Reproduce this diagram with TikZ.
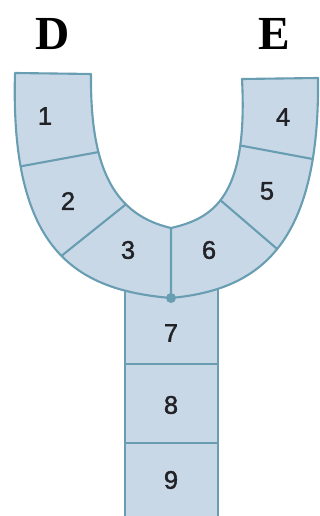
\documentclass[tikz,border=0pt]{standalone}
\usepackage{fontspec}
\newfontfamily\numfont[BoldFont={Liberation Sans},BoldFeatures={FakeBold=1.5}]{Liberation Sans}
\newfontfamily\letfont{Liberation Serif}
\definecolor{ufill}{RGB}{200,216,231}
\definecolor{uline}{RGB}{104,157,178}
\definecolor{numcol}{RGB}{34,34,38}
\begin{document}
\begin{tikzpicture}[x=0.02cm,y=-0.02cm,
  part/.style={fill=ufill},
  edge/.style={draw=uline,line width=1.2pt,line join=round},
  num/.style={font=\numfont\bfseries\fontsize{14.5}{14.5}\selectfont,text=numcol,inner sep=0pt},
  letter/.style={font=\letfont\bfseries\fontsize{27}{27}\selectfont,text=black,inner sep=0pt}]
\useasboundingbox (0,0) rectangle (320,516);
\def\Upath{(15,73) -- (91,74) .. controls (90,170) and (115,215) .. (171,228)
  .. controls (215,218) and (248,195) .. (242,79) -- (318,78)
  .. controls (320,250) and (255,290) .. (171,298)
  .. controls (75,290) and (10,250) .. (15,73) -- cycle}
% stem
\fill[part] (125,270) rectangle (218,516);
\coordinate (sl) at (125,270); \coordinate (sr) at (218,270);
\coordinate (bl) at (125,516); \coordinate (br) at (218,516);
\coordinate (h1l) at (125,364); \coordinate (h1r) at (218,364);
\coordinate (h2l) at (125,443); \coordinate (h2r) at (218,443);
\draw[edge] (sl) -- (bl) (sr) -- (br) (h1l) -- (h1r) (h2l) -- (h2r);
% U
\fill[part] \Upath;
\begin{scope}
  \clip \Upath;
  \draw[edge] (9,168.5) -- (101,151.6)
              (57,259.4) -- (133,198.6)
              (171,220) -- (171,305)
              (212,193) -- (283,254)
              (235,144.5) -- (326,161.5);
\end{scope}
\draw[edge] \Upath;
\coordinate (j) at (171,298);
\fill[uline] (j) circle (5);
% labels
\node[num] (n1) at (45,116) {1};
\node[num] (n2) at (68,201) {2};
\node[num] (n3) at (128,250) {3};
\node[num] (n6) at (209,250) {6};
\node[num] (n5) at (267,191) {5};
\node[num] (n4) at (283,117) {4};
\node[num] (n7) at (171,333) {7};
\node[num] (n8) at (171,405) {8};
\node[num] (n9) at (171,480) {9};
\node[letter] (D) at (53,34) {D};
\node[letter] (E) at (274,34) {E};
\end{tikzpicture}
\end{document}
